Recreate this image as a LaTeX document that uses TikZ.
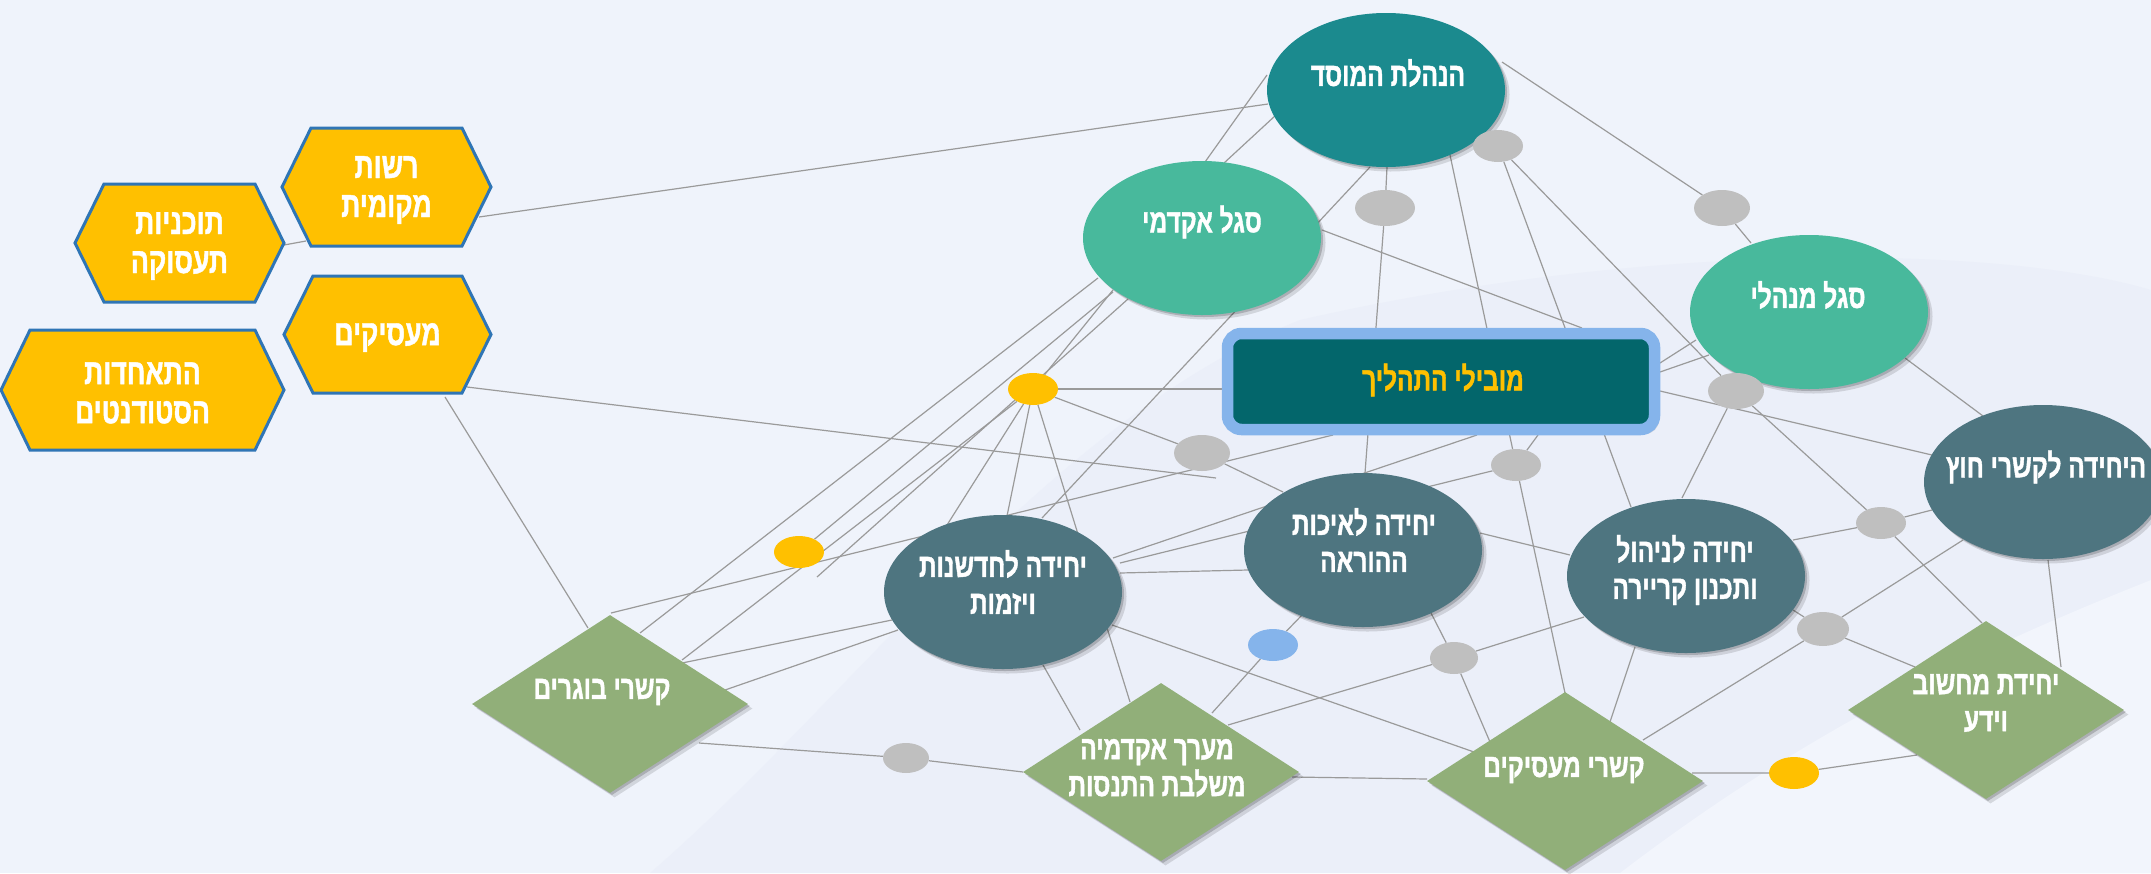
\documentclass[tikz,border=0pt]{standalone}
\usepackage{fontspec}
\newfontfamily\heb[Script=Hebrew,FakeStretch=0.74,FakeBold=1.2]{Liberation Sans}
\TeXXeTstate=1
\usetikzlibrary{shapes.geometric,shadows,calc}
\pgfdeclarelayer{back}\pgfdeclarelayer{lines}
\pgfsetlayers{back,lines,main}
\definecolor{bgc}{HTML}{EFF3FB}
\definecolor{bgd}{HTML}{EBEFF9}
\definecolor{bgl}{HTML}{F2F5FC}
\definecolor{instc}{HTML}{1B8A8E}
\definecolor{greenc}{HTML}{48B99C}
\definecolor{slatec}{HTML}{4E7580}
\definecolor{boxc}{HTML}{03666B}
\definecolor{boxb}{HTML}{85B4EB}
\definecolor{goldc}{HTML}{FFC000}
\definecolor{diac}{HTML}{91AF79}
\definecolor{hexb}{HTML}{2F75B5}
\definecolor{dotg}{HTML}{BFBFBF}
\definecolor{linec}{HTML}{9A9A9A}
\newcommand\rtl[1]{\beginR #1\endR}
\tikzset{
  shd/.style={drop shadow={shadow xshift=2pt,shadow yshift=-2pt,opacity=0.18,fill=black},
              drop shadow={shadow xshift=4.5pt,shadow yshift=-4.5pt,opacity=0.12,fill=black}},
  ell/.style={ellipse,minimum width=238pt,minimum height=154pt,inner sep=0pt,shd},
  dia/.style={diamond,minimum width=276pt,minimum height=178pt,inner sep=0pt,fill=diac,shd},
  tx/.style={text=white,font=\heb\bfseries\fontsize{33}{37}\selectfont,align=center,inner sep=0pt},
  hx/.style={tx,font=\heb\bfseries\fontsize{36}{39}\selectfont},
  dot/.style={ellipse,inner sep=0pt,minimum width=50pt,minimum height=32pt},
  gdot/.style={dot,fill=dotg},
  ydot/.style={dot,fill=goldc},
  bdot/.style={dot,fill=boxb},
  hexst/.style={fill=goldc,draw=hexb,line width=3pt,line join=miter},
  ln/.style={draw=linec,line width=1.2pt}
}
\newcommand\hexa[6]{%
  \filldraw[hexst] ({#2-#4},#3) -- ({#2-#4+29},{#3-#5}) -- ({#2+#4-29},{#3-#5}) -- ({#2+#4},#3) -- ({#2+#4-29},{#3+#5}) -- ({#2-#4+29},{#3+#5}) -- cycle;
  \node[hx] (#1) at (#2,{#3+3}) {#6};}
\begin{document}
\begin{tikzpicture}[x=1pt,y=-1pt]
\useasboundingbox (0,0) rectangle (2151,873);
\begin{pgfonlayer}{back}
\fill[bgc] (0,0) rectangle (2151,873);
\fill[bgd] (1300,320) .. controls (1650,240) and (2000,245) .. (2151,290) -- (2151,873) -- (650,873) .. controls (850,700) and (1050,420) .. cycle;
\fill[bgl] (1620,873) .. controls (1820,720) and (2000,640) .. (2151,580) -- (2151,873) -- cycle;
\end{pgfonlayer}

% hexagons
\hexa{local}{386.5}{187}{104.5}{59}{\rtl{רשות}\\\rtl{מקומית}}
\hexa{prog}{179.5}{243}{104.5}{59}{\rtl{תוכניות}\\\rtl{תעסוקה}}
\hexa{employers}{387.5}{334.5}{103.5}{58.5}{\rtl{מעסיקים}}
\hexa{union}{142.5}{390}{141.5}{60}{\rtl{התאחדות}\\\rtl{הסטודנטים}}

% ellipses
\node[ell,fill=instc] (inst) at (1386,90) {};
\node[ell,fill=greenc] (acad) at (1202,238) {};
\node[ell,fill=greenc] (mgmt) at (1809,312) {};
\node[ell,fill=slatec] (ext) at (2043,482) {};
\node[ell,fill=slatec] (career) at (1686,576) {};
\node[ell,fill=slatec] (quality) at (1363,550) {};
\node[ell,fill=slatec] (innov) at (1003,592) {};

% box
\node[draw=boxb,line width=11.5pt,fill=boxc,rounded corners=14pt,minimum width=427pt,minimum height=96pt,inner sep=0pt,shd] (box) at (1441,381.5) {};
\node[tx,text=goldc] (boxt) at (1443,380) {\rtl{מובילי התהליך}};

% diamonds
\node[dia] (alumni) at (610,704) {};
\node[dia] (exp) at (1161,772) {};
\node[dia] (emp) at (1565,781) {};
\node[dia] (comp) at (1986,710) {};

% texts
\node[tx] (instt) at (1388,73) {\rtl{הנהלת המוסד}};
\node[tx] (acadt) at (1202,222) {\rtl{סגל אקדמי}};
\node[tx] (mgmtt) at (1808,295) {\rtl{סגל מנהלי}};
\node[tx] (extt) at (2046,467) {\rtl{היחידה לקשרי חוץ}};
\node[tx] (careert) at (1685,570) {\rtl{יחידה לניהול}\\\rtl{ותכנון קריירה}};
\node[tx] (qualityt) at (1364,540) {\rtl{יחידה לאיכות}\\\rtl{ההוראה}};
\node[tx] (innovt) at (1003,582) {\rtl{יחידה לחדשנות}\\\rtl{ויזמות}};
\node[tx] (alumnit) at (602,692) {\rtl{קשרי בוגרים}};
\node[tx] (expt) at (1157,768) {\rtl{מערך אקדמיה}\\\rtl{משלבת התנסות}};
\node[tx] (empt) at (1564,770) {\rtl{קשרי מעסיקים}};
\node[tx] (compt) at (1986,703) {\rtl{יחידת מחשוב}\\\rtl{וידע}};

% dots
\node[gdot] (g1) at (1498,146) {};
\node[gdot,minimum width=60pt,minimum height=36pt] (g2) at (1385,208) {};
\node[gdot,minimum width=56pt,minimum height=36pt] (g3) at (1722,208) {};
\node[gdot,minimum width=56pt,minimum height=36pt] (g4) at (1202,453) {};
\node[gdot,minimum width=56pt,minimum height=36pt] (g5) at (1736,391) {};
\node[gdot] (g6) at (1516,465) {};
\node[gdot] (g7) at (1881,523) {};
\node[gdot,minimum width=52pt,minimum height=34pt] (g8) at (1823,629) {};
\node[gdot,minimum width=48pt] (g9) at (1454,658) {};
\node[gdot,minimum width=46pt,minimum height=30pt] (g10) at (906,758) {};
\node[ydot] (y1) at (1033,389) {};
\node[ydot] (y2) at (799,552) {};
\node[ydot] (y3) at (1794,773) {};
\node[bdot] (b1) at (1273,645) {};

\coordinate (f1) at (1216,478);
\coordinate (f2) at (817,577);

\begin{pgfonlayer}{lines}
\draw[ln] ([shift={(92.5,27)}]local.center) -- ([shift={(-118,14)}]inst.center);
\draw[ln] ([shift={(104.5,-1)}]prog.center) -- ([shift={(-80.5,51)}]local.center);
\draw[ln] ([shift={(79.5,49.5)}]employers.center) -- (f1);
\draw[ln] ([shift={(57.5,59.5)}]employers.center) -- ([shift={(-22,-76)}]alumni.center);
\draw[ln] ([shift={(1,-91)}]alumni.center) -- ([shift={(-108,53.5)}]box.center);
\draw[ln] ([shift={(30,-71)}]alumni.center) -- ([shift={(-104,40)}]acad.center);
\draw[ln] ([shift={(72,-44)}]alumni.center) -- (y1);
\draw[ln] (y2) -- ([shift={(-89,54)}]acad.center);
\draw[ln] (f2) -- ([shift={(-74,61)}]acad.center);
\draw[ln] ([shift={(72,-41)}]alumni.center) -- ([shift={(-111,28)}]innov.center);
\draw[ln] ([shift={(115,-14)}]alumni.center) -- ([shift={(-105,38)}]innov.center);
\draw[ln] ([shift={(89,39)}]alumni.center) -- (g10) -- ([shift={(-138,0)}]exp.center);
\draw[ln] (y1) -- ([shift={(-219,7.5)}]box.center);
\draw[ln] (y1) -- (g4);
\draw[ln] (y1) -- ([shift={(4,-76)}]innov.center);
\draw[ln] (y1) -- ([shift={(-31,-70)}]exp.center);
\draw[ln] (y1) -- ([shift={(-56,-67)}]innov.center);
\draw[ln] (y1) -- ([shift={(-89,52)}]acad.center);
\draw[ln] ([shift={(39,-74)}]innov.center) -- ([shift={(-16,77)}]inst.center);
\draw[ln] (g4) -- ([shift={(-80,-58)}]quality.center);
\draw[ln] ([shift={(117,-19)}]innov.center) -- ([shift={(-115,20)}]quality.center);
\draw[ln] ([shift={(110,-34)}]innov.center) -- ([shift={(36,53.5)}]box.center);
\draw[ln] ([shift={(117,-29)}]innov.center) -- (g6);
\draw[ln] ([shift={(40,73)}]innov.center) -- ([shift={(-81,-42)}]exp.center);
\draw[ln] ([shift={(109,33)}]innov.center) -- ([shift={(-91,-29)}]emp.center);
\draw[ln] ([shift={(51,-59)}]exp.center) -- (b1) -- ([shift={(-61,65)}]quality.center);
\draw[ln] ([shift={(67,-47)}]exp.center) -- (g9) -- ([shift={(-102,41)}]career.center);
\draw[ln] ([shift={(68,63)}]quality.center) -- (g9) -- ([shift={(-75,-39)}]emp.center);
\draw[ln] ([shift={(131,5)}]exp.center) -- ([shift={(-138,-2)}]emp.center);
\draw[ln] ([shift={(127,-8)}]emp.center) -- (y3) -- ([shift={(-69,45)}]comp.center);
\draw[ln] ([shift={(1,77)}]inst.center) -- (g2) -- ([shift={(2,-77)}]quality.center);
\draw[ln] ([shift={(120,-8)}]acad.center) -- ([shift={(141,-53.5)}]box.center);
\draw[ln] ([shift={(64,65)}]inst.center) -- (g6) -- ([shift={(0,-88)}]emp.center);
\draw[ln] (g1) -- ([shift={(-55,-69)}]career.center);
\draw[ln] (g1) -- (g5) -- (g7) -- ([shift={(-4,-87)}]comp.center);
\draw[ln] ([shift={(116,-28)}]inst.center) -- (g3) -- ([shift={(-58,-69)}]mgmt.center);
\draw[ln] ([shift={(219,-18.5)}]box.center) -- ([shift={(-113,28)}]mgmt.center);
\draw[ln] ([shift={(219,-9.5)}]box.center) -- ([shift={(-100,43)}]mgmt.center);
\draw[ln] ([shift={(219,9.5)}]box.center) -- ([shift={(-111,-27)}]ext.center);
\draw[ln] ([shift={(96,46)}]mgmt.center) -- ([shift={(-60,-66)}]ext.center);
\draw[ln] (g5) -- ([shift={(-4,-78)}]career.center);
\draw[ln] ([shift={(97,53.5)}]box.center) -- (g6);
\draw[ln] ([shift={(117,-17)}]quality.center) -- ([shift={(-116,-21)}]career.center);
\draw[ln] ([shift={(107,-36)}]career.center) -- (g7) -- ([shift={(-111,28)}]ext.center);
\draw[ln] ([shift={(107,34)}]career.center) -- (g8) -- ([shift={(-71,-43)}]comp.center);
\draw[ln] ([shift={(-80,58)}]ext.center) -- (g8) -- ([shift={(78,-41)}]emp.center);
\draw[ln] ([shift={(-51,71)}]career.center) -- ([shift={(45,-59)}]emp.center);
\draw[ln] ([shift={(5,78)}]ext.center) -- ([shift={(75,-43)}]comp.center);
\draw[ln] ([shift={(-119,-15)}]inst.center) -- ([shift={(3,-76)}]acad.center);
\draw[ln] ([shift={(-110,25)}]inst.center) -- ([shift={(22,-75)}]acad.center);
\end{pgfonlayer}
\end{tikzpicture}
\end{document}
